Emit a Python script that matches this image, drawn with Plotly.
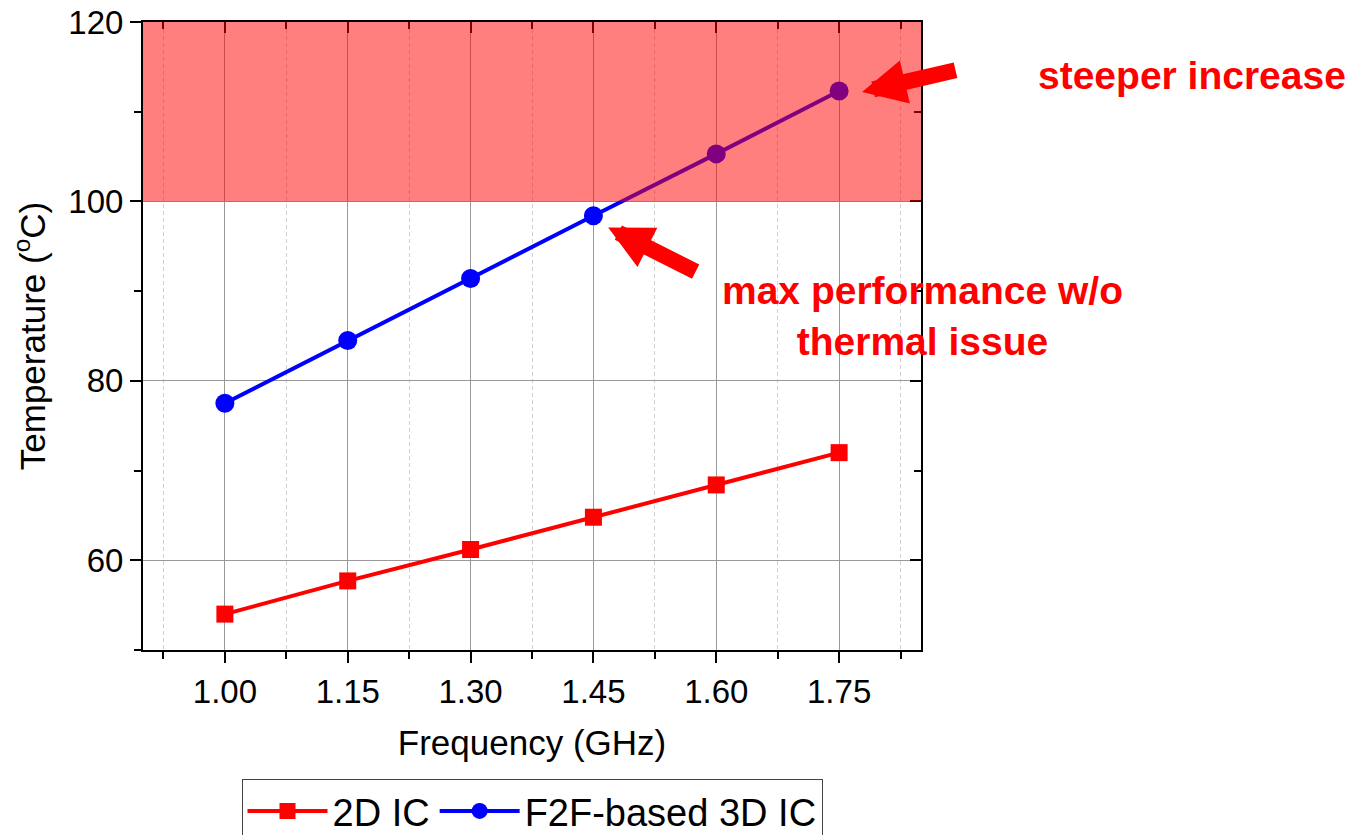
import plotly.graph_objects as go

freq = [1.00, 1.15, 1.30, 1.45, 1.60, 1.75]
temp_2d = [54.0, 57.7, 61.2, 64.8, 68.4, 72.0]
temp_3d = [77.5, 84.5, 91.4, 98.4, 105.3, 112.3]
series_names = ["2D IC", "F2F-based 3D IC"]
threshold = 100
y_max = 120

FONT = "Liberation Sans, Arial, sans-serif"
BOLD = "Liberation Sans, Arial, sans-serif"

fig = go.Figure()
fig.add_trace(go.Scatter(x=freq, y=temp_2d, name=series_names[0], mode="lines+markers",
                         line=dict(color="#ff0000", width=4),
                         marker=dict(symbol="square", size=17, color="#ff0000")))
fig.add_trace(go.Scatter(x=freq, y=temp_3d, name=series_names[1], mode="lines+markers",
                         line=dict(color="#0000ff", width=4),
                         marker=dict(symbol="circle", size=19, color="#0000ff")))
# dummy trace for mirrored top/right axes
fig.add_trace(go.Scatter(x=[None], y=[None], xaxis="x2", yaxis="y2", showlegend=False,
                         hoverinfo="skip"))

fig.add_shape(type="rect", xref="paper", yref="y", x0=0, x1=1, y0=threshold, y1=y_max,
              fillcolor="rgba(255,0,0,0.5)", line=dict(width=0), layer="above")

fig.add_annotation(x=1.778, y=112.2, ax=95, ay=-22, axref="pixel", ayref="pixel",
                   text="", showarrow=True, arrowhead=2, arrowwidth=16, arrowsize=0.55,
                   arrowcolor="#ff0000")
fig.add_annotation(x=1.468, y=97.1, ax=89, ay=45, axref="pixel", ayref="pixel",
                   text="", showarrow=True, arrowhead=2, arrowwidth=16, arrowsize=0.55,
                   arrowcolor="#ff0000")
fig.add_annotation(xref="paper", yref="paper", x=1.348, y=0.9156, text="<b>steeper increase</b>",
                   showarrow=False, xanchor="center", yanchor="middle",
                   font=dict(family=BOLD, size=39, color="#ff0000"))
fig.add_annotation(xref="paper", yref="paper", x=1.002, y=0.532,
                   text="<b>max performance w/o<br>thermal issue</b>",
                   showarrow=False, xanchor="center", yanchor="middle",
                   font=dict(family=BOLD, size=39, color="#ff0000"))

tickfont = dict(family=FONT, size=33, color="black")
fig.update_layout(
    width=1361, height=835,
    margin=dict(l=143, r=440, t=22, b=185, autoexpand=False),
    plot_bgcolor="white", paper_bgcolor="white",
    font=dict(family=FONT, color="black"),
    xaxis=dict(range=[0.9, 1.85], tick0=1.0, dtick=0.15, tickformat=".2f",
               ticks="outside", ticklen=11, tickwidth=2, tickcolor="black",
               showline=True, linecolor="black", linewidth=2,
               showgrid=True, gridcolor="#999999", gridwidth=1,
               minor=dict(dtick=0.075, tick0=1.0, ticks="outside", ticklen=7, tickwidth=2,
                          tickcolor="black", showgrid=True, gridcolor="#d0d0d0",
                          griddash="4px,3px", gridwidth=1),
               tickfont=tickfont, zeroline=False, automargin=False,
               title=dict(text="Frequency (GHz)", font=dict(family=FONT, size=35), standoff=22)),
    yaxis=dict(range=[50, 120], tick0=0, dtick=20,
               ticks="outside", ticklen=11, tickwidth=2, tickcolor="black",
               showline=True, linecolor="black", linewidth=2,
               showgrid=True, gridcolor="#999999", gridwidth=1,
               minor=dict(dtick=10, tick0=0, ticks="outside", ticklen=7, tickwidth=2,
                          tickcolor="black", showgrid=False),
               tickfont=tickfont, zeroline=False, automargin=False,
               title=dict(text="Temperature (<sup>o</sup>C)", font=dict(family=FONT, size=35),
                          standoff=12)),
    xaxis2=dict(range=[0.9, 1.85], overlaying="x", side="top", anchor="y2",
                tick0=1.0, dtick=0.15, ticks="inside", ticklen=11, tickwidth=2,
                tickcolor="black", showticklabels=False, showgrid=False, zeroline=False,
                showline=True, linecolor="black", linewidth=2, automargin=False,
                minor=dict(dtick=0.075, tick0=1.0, ticks="inside", ticklen=7, tickwidth=2,
                           tickcolor="black")),
    yaxis2=dict(range=[50, 120], overlaying="y", side="right", anchor="x2",
                tick0=0, dtick=20, ticks="inside", ticklen=11, tickwidth=2,
                tickcolor="black", showticklabels=False, showgrid=False, zeroline=False,
                showline=True, linecolor="black", linewidth=2, automargin=False,
                minor=dict(dtick=10, tick0=0, ticks="inside", ticklen=7, tickwidth=2,
                           tickcolor="black")),
    legend=dict(orientation="h", x=0.5, xanchor="center",
                y=-0.205, yanchor="top", bgcolor="white", bordercolor="#444444",
                borderwidth=1, font=dict(family=FONT, size=38), itemwidth=80,
                tracegroupgap=0),
    showlegend=True,
)

fig.write_html("out.html")
